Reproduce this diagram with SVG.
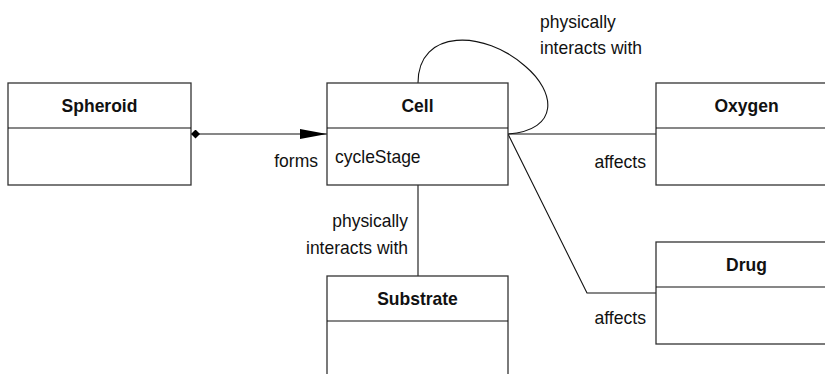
<svg xmlns="http://www.w3.org/2000/svg" width="825" height="374" viewBox="0 0 825 374">
<defs>
<style>
.box{fill:#fff;stroke:#333;stroke-width:1.3}
.div{stroke:#111;stroke-width:1.2}
.t{font-family:"Liberation Sans",Arial,Helvetica,sans-serif;font-size:19px;fill:#111}
.b{font-weight:bold;text-anchor:middle}
.e{text-anchor:end}
.c{fill:none;stroke:#111;stroke-width:1.1}
</style>
<marker id="diamond" viewBox="0 0 10 10" refX="0" refY="5" markerWidth="9" markerHeight="9" markerUnits="userSpaceOnUse" orient="auto">
<path d="M0,5 L5,0 L10,5 L5,10 Z" fill="#000"/>
</marker>
<marker id="arrow" viewBox="0 0 27 10" refX="27" refY="5" markerWidth="27" markerHeight="10" markerUnits="userSpaceOnUse" orient="auto">
<path d="M0,0 L27,5 L0,10 Z" fill="#000"/>
</marker>
</defs>
<rect width="825" height="374" fill="#fff"/>
<g id="connectors">
<path class="c" d="M191,134 L327,134" marker-start="url(#diamond)" marker-end="url(#arrow)"/>
<path class="c" d="M418,83 C418,28 485,30 525,66 C556,92 560,130 508,134"/>
<path class="c" d="M508,134 L656,134"/>
<path class="c" d="M508,134 L587,293 L656,293"/>
<path class="c" d="M418,185 L418,276"/>
<text class="t e" x="318" y="167" textLength="43.8" lengthAdjust="spacingAndGlyphs">forms</text>
<text class="t" x="540" y="28" textLength="75.8" lengthAdjust="spacingAndGlyphs">physically</text>
<text class="t" x="540" y="54" textLength="102" lengthAdjust="spacingAndGlyphs">interacts with</text>
<text class="t e" x="646" y="168" textLength="51.6" lengthAdjust="spacingAndGlyphs">affects</text>
<text class="t e" x="646" y="324" textLength="51.6" lengthAdjust="spacingAndGlyphs">affects</text>
<text class="t e" x="408" y="227" textLength="75.8" lengthAdjust="spacingAndGlyphs">physically</text>
<text class="t e" x="408" y="254" textLength="102" lengthAdjust="spacingAndGlyphs">interacts with</text>
</g>
<g id="spheroid">
<rect class="box" x="8" y="83" width="183" height="102"/>
<line class="div" x1="8" y1="128" x2="191" y2="128"/>
<text class="t b" x="99.5" y="112" textLength="75.8" lengthAdjust="spacingAndGlyphs">Spheroid</text>
</g>
<g id="cell">
<rect class="box" x="327" y="83" width="181" height="102"/>
<line class="div" x1="327" y1="128" x2="508" y2="128"/>
<text class="t b" x="417.5" y="112" textLength="32.1" lengthAdjust="spacingAndGlyphs">Cell</text>
<text class="t" x="335" y="163" textLength="85.6" lengthAdjust="spacingAndGlyphs">cycleStage</text>
</g>
<g id="oxygen">
<rect class="box" x="656" y="83" width="181" height="102"/>
<line class="div" x1="656" y1="128" x2="837" y2="128"/>
<text class="t b" x="746.5" y="112" textLength="64.2" lengthAdjust="spacingAndGlyphs">Oxygen</text>
</g>
<g id="drug">
<rect class="box" x="656" y="242" width="181" height="102"/>
<line class="div" x1="656" y1="287" x2="837" y2="287"/>
<text class="t b" x="746.5" y="271" textLength="40.8" lengthAdjust="spacingAndGlyphs">Drug</text>
</g>
<g id="substrate">
<rect class="box" x="327" y="276" width="181" height="110"/>
<line class="div" x1="327" y1="321" x2="508" y2="321"/>
<text class="t b" x="417.5" y="305" textLength="80.7" lengthAdjust="spacingAndGlyphs">Substrate</text>
</g>
</svg>
